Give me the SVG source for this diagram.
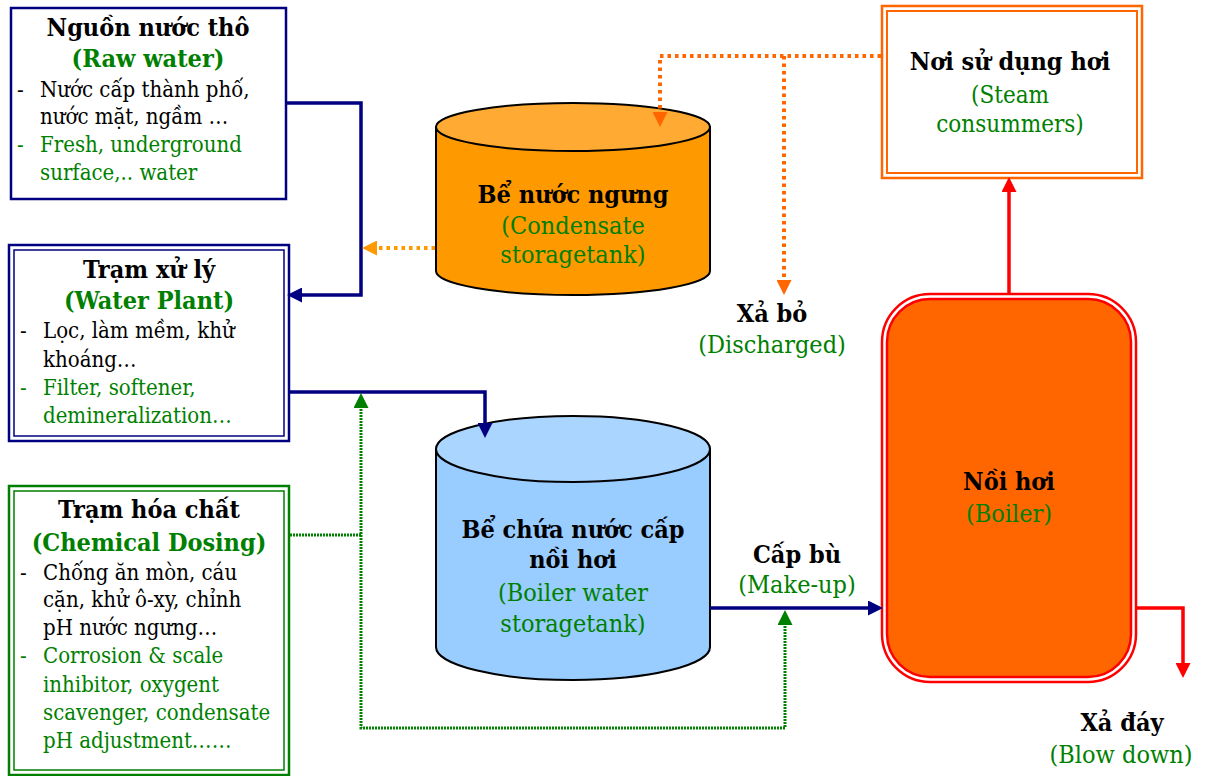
<svg xmlns="http://www.w3.org/2000/svg" width="1206" height="776" viewBox="0 0 1206 776">
<defs>
<style>
text{font-family:"DejaVu Serif Condensed","DejaVu Serif","Liberation Serif",serif;font-size:22px;fill:#000}
.t{font-weight:bold;font-size:25px;text-anchor:middle}
.tg{font-weight:bold;font-size:25px;text-anchor:middle;fill:#008000}
.g{fill:#008000}
.cg{text-anchor:middle;fill:#008000;font-size:25px}
.navy{fill:none;stroke:#000080;stroke-width:3.5}
.red{fill:none;stroke:#FF0000;stroke-width:3.5}
.org{fill:none;stroke:#FF6600;stroke-width:4;stroke-dasharray:3.5 4}
.org2{fill:none;stroke:#FF9900;stroke-width:4;stroke-dasharray:3.5 4}
.grn{fill:none;stroke:#008000;stroke-width:3;stroke-dasharray:2 1}
.tank{stroke:#000;stroke-width:2}
</style>
<marker id="aN" viewBox="0 0 15 15" markerWidth="15" markerHeight="15" refX="1" refY="7.5" orient="auto" markerUnits="userSpaceOnUse"><path d="M0,0 L15,7.5 L0,15 z" fill="#000080"/></marker>
<marker id="aR" viewBox="0 0 15 15" markerWidth="15" markerHeight="15" refX="1" refY="7.5" orient="auto" markerUnits="userSpaceOnUse"><path d="M0,0 L15,7.5 L0,15 z" fill="#FF0000"/></marker>
<marker id="aO" viewBox="0 0 15 15" markerWidth="15" markerHeight="15" refX="1" refY="7.5" orient="auto" markerUnits="userSpaceOnUse"><path d="M0,0 L15,7.5 L0,15 z" fill="#FF6600"/></marker>
<marker id="aO2" viewBox="0 0 15 15" markerWidth="15" markerHeight="15" refX="1" refY="7.5" orient="auto" markerUnits="userSpaceOnUse"><path d="M0,0 L15,7.5 L0,15 z" fill="#FF9900"/></marker>
<marker id="aG" viewBox="0 0 15 15" markerWidth="15" markerHeight="15" refX="1" refY="7.5" orient="auto" markerUnits="userSpaceOnUse"><path d="M0,0 L15,7.5 L0,15 z" fill="#008000"/></marker>
</defs>
<rect width="1206" height="776" fill="#fff"/>

<g id="raw-water">
<rect x="11" y="8" width="275" height="191" fill="#fff" stroke="#000080" stroke-width="2.5"/>
<text class="t" x="148" y="36">Nguồn nước thô</text>
<text class="tg" x="148" y="67">(Raw water)</text>
<text x="17" y="97">-</text><text x="40" y="97">Nước cấp thành phố,</text>
<text x="40" y="124">nước mặt, ngầm …</text>
<text class="g" x="17" y="152">-</text><text class="g" x="40" y="152">Fresh, underground</text>
<text class="g" x="40" y="180">surface,.. water</text>
</g>

<g id="water-plant">
<rect x="9" y="245" width="280" height="196" fill="#fff" stroke="#000080" stroke-width="2.5"/>
<rect x="14" y="250" width="270" height="186" fill="none" stroke="#000080" stroke-width="1.5"/>
<text class="t" x="149" y="278">Trạm xử lý</text>
<text class="tg" x="149" y="309">(Water Plant)</text>
<text x="20" y="338">-</text><text x="43" y="338">Lọc, làm mềm, khử</text>
<text x="43" y="367">khoáng…</text>
<text class="g" x="20" y="395">-</text><text class="g" x="43" y="395">Filter, softener,</text>
<text class="g" x="43" y="423">demineralization…</text>
</g>

<g id="chemical-dosing">
<rect x="9" y="486" width="280" height="289" fill="#fff" stroke="#008000" stroke-width="2.5"/>
<rect x="14" y="491" width="270" height="279" fill="none" stroke="#008000" stroke-width="1.5"/>
<text class="t" x="149" y="518">Trạm hóa chất</text>
<text class="tg" x="149" y="551">(Chemical Dosing)</text>
<text x="20" y="580">-</text><text x="43" y="580">Chống ăn mòn, cáu</text>
<text x="43" y="607">cặn, khử ô-xy, chỉnh</text>
<text x="43" y="635">pH nước ngưng…</text>
<text class="g" x="20" y="663">-</text><text class="g" x="43" y="663">Corrosion &amp; scale</text>
<text class="g" x="43" y="692">inhibitor, oxygent</text>
<text class="g" x="43" y="720">scavenger, condensate</text>
<text class="g" x="43" y="748">pH adjustment……</text>
</g>

<g id="condensate-tank">
<path class="tank" fill="#FF9900" d="M436,127 V271 A137,24 0 0 0 710,271 V127 Z"/>
<ellipse class="tank" cx="573" cy="127" rx="137" ry="24" fill="#FFAA33"/>
<text class="t" x="573" y="203">Bể nước ngưng</text>
<text class="cg" x="573" y="234">(Condensate</text>
<text class="cg" x="573" y="263">storagetank)</text>
</g>

<g id="boiler-water-tank">
<path class="tank" fill="#99CCFF" d="M436,449 V647 A137,33 0 0 0 710,647 V449 Z"/>
<ellipse class="tank" cx="573" cy="449" rx="137" ry="33" fill="#AAD5FF"/>
<text class="t" x="573" y="538">Bể chứa nước cấp</text>
<text class="t" x="573" y="568">nồi hơi</text>
<text class="cg" x="573" y="601">(Boiler water</text>
<text class="cg" x="573" y="632">storagetank)</text>
</g>

<g id="steam-consumers">
<rect x="882" y="6" width="260" height="172" fill="#fff" stroke="#FF6600" stroke-width="2.5"/>
<rect x="887" y="11" width="250" height="162" fill="none" stroke="#FF6600" stroke-width="2"/>
<text class="t" x="1010" y="70">Nơi sử dụng hơi</text>
<text class="cg" x="1010" y="103" style="font-size:24px">(Steam</text>
<text class="cg" x="1010" y="132" style="font-size:24px">consummers)</text>
</g>

<g id="boiler">
<rect x="882" y="294" width="254" height="388" rx="48" fill="#fff" stroke="#FF0000" stroke-width="2.5"/>
<rect x="887" y="299" width="244" height="378" rx="43" fill="#FF6600" stroke="#FF0000" stroke-width="2.5"/>
<text class="t" x="1009" y="490">Nồi hơi</text>
<text class="cg" x="1009" y="522">(Boiler)</text>
</g>

<g id="discharged">
<text class="t" x="772" y="322">Xả bỏ</text>
<text class="cg" x="772" y="353">(Discharged)</text>
</g>

<g id="make-up">
<text class="t" x="797" y="563">Cấp bù</text>
<text class="cg" x="797" y="593">(Make-up)</text>
</g>

<g id="blow-down">
<text class="t" x="1122" y="731">Xả đáy</text>
<text class="cg" x="1121" y="763">(Blow down)</text>
</g>

<g id="connectors">
<path class="navy" d="M286,103 H361 V295 H301" marker-end="url(#aN)"/>
<path class="org2" d="M435,248 H376" marker-end="url(#aO2)"/>
<path class="navy" d="M290,392 H485 V424" marker-end="url(#aN)"/>
<path class="grn" d="M290,535 H361 V407" marker-end="url(#aG)"/>
<path class="grn" d="M361,535 V728 H785 V624" marker-end="url(#aG)"/>
<path class="navy" d="M710,608 H869" marker-end="url(#aN)"/>
<path class="red" d="M1009,293 V191" marker-end="url(#aR)"/>
<path class="org" d="M881,56 H660 V113" marker-end="url(#aO)"/>
<path class="org" d="M784,56 V281" marker-end="url(#aO)"/>
<path class="red" d="M1136,608 H1183 V664" marker-end="url(#aR)"/>
</g>
</svg>
